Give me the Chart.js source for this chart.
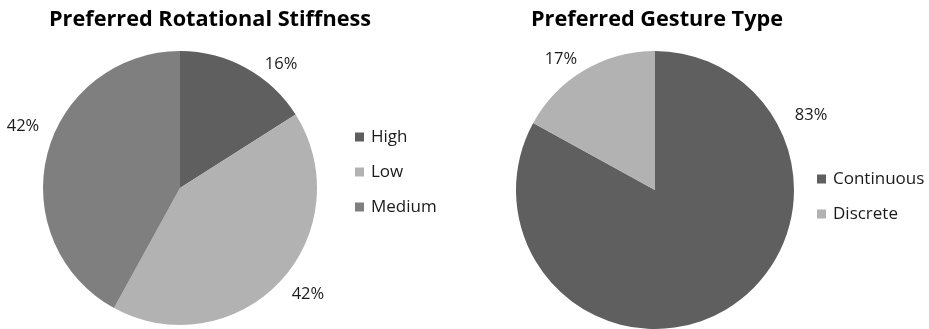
<!DOCTYPE html>
<html>
<head>
<meta charset="utf-8">
<script src="https://cdn.jsdelivr.net/npm/chart.js@4"></script>
<style>
  html, body { margin: 0; padding: 0; background: #ffffff; }
  #wrap { position: relative; width: 929px; height: 329px; overflow: hidden; }
  canvas { position: absolute; top: 0; }
  #stiffness { left: 0; }
  #gesture { left: 464px; }
</style>
</head>
<body>
<div id="wrap">
  <canvas id="stiffness" width="464" height="329"></canvas>
  <canvas id="gesture" width="465" height="329"></canvas>
</div>
<script>
// Survey results (percent of participants)
const stiffnessTitle = 'Preferred Rotational Stiffness';
const stiffnessCategories = ['High', 'Low', 'Medium'];
const stiffnessValues = [16, 42, 42];

const gestureTitle = 'Preferred Gesture Type';
const gestureCategories = ['Continuous', 'Discrete'];
const gestureValues = [83, 17];

const DARK = '#5f5f5f';
const LIGHT = '#b2b2b2';
const MID = '#7f7f7f';

const FONT = '"Open Sans", "Noto Sans", sans-serif';

// Draws the title, the outside percentage labels and the side legend.
const pieDecor = {
  id: 'pieDecor',
  afterDraw(chart, args, opts) {
    const ctx = chart.ctx;
    const ds = chart.data.datasets[0];
    const meta = chart.getDatasetMeta(0);
    const area = chart.chartArea;
    ctx.save();

    // title
    ctx.fillStyle = '#000000';
    ctx.font = `bold ${opts.titleSize}px ${FONT}`;
    ctx.textAlign = 'center';
    ctx.textBaseline = 'alphabetic';
    ctx.fillText(opts.title, opts.titleX, opts.titleBaseline);

    // percentage labels outside each slice
    ctx.fillStyle = '#1a1a1a';
    ctx.font = `${opts.labelSize}px ${FONT}`;
    ctx.textAlign = 'center';
    ctx.textBaseline = 'middle';
    meta.data.forEach((arc, i) => {
      const p = arc.getProps(['x', 'y', 'startAngle', 'endAngle', 'outerRadius'], true);
      const a = (p.startAngle + p.endAngle) / 2 + opts.labelShift[i] * Math.PI / 180;
      const r = p.outerRadius + opts.labelGap[i];
      ctx.fillText(ds.data[i] + '%', p.x + r * Math.cos(a), p.y + r * Math.sin(a));
    });

    // legend
    ctx.font = `${opts.legendSize}px ${FONT}`;
    ctx.textAlign = 'left';
    ctx.textBaseline = 'middle';
    const lx = area.right + opts.legendGap;
    chart.data.labels.forEach((label, i) => {
      const cy = opts.legendTop + i * opts.legendStep;
      ctx.fillStyle = ds.backgroundColor[i];
      ctx.fillRect(lx, cy - 4.5, 9, 9);
      ctx.fillStyle = '#1a1a1a';
      ctx.fillText(label, lx + 16, cy);
    });

    ctx.restore();
  }
};

function makePie(id, labels, values, colors, padding, decor) {
  return new Chart(document.getElementById(id), {
    type: 'pie',
    data: {
      labels: labels,
      datasets: [{
        data: values,
        backgroundColor: colors,
        borderWidth: 0,
        hoverOffset: 0,
        offset: 0
      }]
    },
    options: {
      responsive: false,
      animation: false,
      layout: { padding: padding },
      plugins: {
        legend: { display: false },
        title: { display: false },
        tooltip: { enabled: false },
        pieDecor: decor
      }
    },
    plugins: [pieDecor]
  });
}

makePie('stiffness', stiffnessCategories, stiffnessValues, [DARK, LIGHT, MID],
  { left: 43, right: 147, top: 51, bottom: 4 },
  {
    title: stiffnessTitle, titleSize: 21.7, titleX: 210, titleBaseline: 26,
    labelSize: 16.5, labelShift: [10.5, -3.4, 7.1], labelGap: [22.5, 29.5, 31.8],
    legendSize: 17, legendGap: 38, legendTop: 137, legendStep: 35
  });

makePie('gesture', gestureCategories, gestureValues, [DARK, LIGHT],
  { left: 52, right: 135, top: 51, bottom: 0 },
  {
    title: gestureTitle, titleSize: 21.7, titleX: 193, titleBaseline: 26,
    labelSize: 16.5, labelShift: [-85, -5.2], labelGap: [34, 21.8],
    legendSize: 17, legendGap: 23, legendTop: 179, legendStep: 35
  });
</script>
</body>
</html>
